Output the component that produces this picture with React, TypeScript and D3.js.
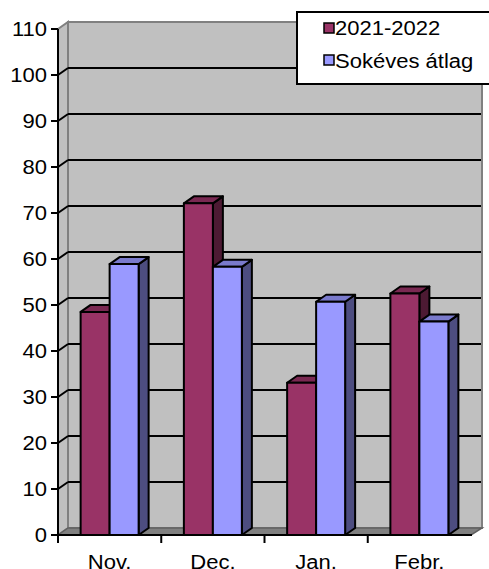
import React from "react";
import * as d3 from "d3";

const categories = ["Nov.", "Dec.", "Jan.", "Febr."];
const seriesNames = ["2021-2022", "Sokéves átlag"];
const seasonValues = [48.5, 72.1, 33.1, 52.5];
const longTermValues = [58.9, 58.3, 50.7, 46.4];
const yTicks = [0, 10, 20, 30, 40, 50, 60, 70, 80, 90, 100, 110];

const frontColors = ["#993366", "#9999FF"];

const W = 489;
const H = 569;
const DX = 10;
const DY = -7;
const FONT = "Arial, 'Liberation Sans', sans-serif";
const FS = 19.5;
const SX = 1.13;

function shade(c: string, k: number) {
  const rgb = d3.rgb(c);
  return d3.rgb(rgb.r * k, rgb.g * k, rgb.b * k).formatHex();
}

function Label({
  x,
  y,
  anchor,
  dy,
  children,
}: {
  x: number;
  y: number;
  anchor: "start" | "middle" | "end";
  dy?: string;
  children: React.ReactNode;
}) {
  return (
    <g transform={`translate(${x},${y}) scale(${SX},1)`}>
      <text x={0} y={0} dy={dy} textAnchor={anchor} fontSize={FS} fill="#000">
        {children}
      </text>
    </g>
  );
}

export default function App() {
  const x0 = 58;
  const x1 = 471;
  const y = d3.scaleLinear().domain([0, 110]).range([535, 29]);
  const xBand = d3.scaleBand<string>().domain(categories).range([x0, x1]);
  const groupW = 58;
  const inner = d3
    .scaleBand<string>()
    .domain(seriesNames)
    .range([(xBand.bandwidth() - groupW) / 2, (xBand.bandwidth() + groupW) / 2]);

  const seriesValues = [seasonValues, longTermValues];
  const base = y(0);
  const top = y(110);

  const bars: React.ReactNode[] = [];
  categories.forEach((cat, ci) => {
    seriesNames.forEach((s, si) => {
      const v = seriesValues[si][ci];
      const bx = (xBand(cat) as number) + (inner(s) as number);
      const bw = inner.bandwidth();
      const by = y(v);
      const col = frontColors[si];
      const side = `M${bx + bw},${by} L${bx + bw + DX},${by + DY} L${bx + bw + DX},${base + DY} L${bx + bw},${base} Z`;
      const topFace = `M${bx},${by} L${bx + DX},${by + DY} L${bx + bw + DX},${by + DY} L${bx + bw},${by} Z`;
      bars.push(
        <g key={`${ci}-${si}`} stroke="#000" strokeWidth={2} strokeLinejoin="round">
          <path d={side} fill={shade(col, 0.5)} />
          <path d={topFace} fill={shade(col, 0.8)} />
          <rect x={bx} y={by} width={bw} height={base - by} fill={col} />
        </g>
      );
    });
  });

  const gridVals = yTicks.filter((t) => t > 0 && t < 110);

  return (
    <svg
      width={W}
      height={H}
      style={{ position: "absolute", left: 0, top: 0, background: "#fff" }}
      fontFamily={FONT}
    >
      {/* back wall */}
      <rect
        x={x0 + DX}
        y={top + DY}
        width={x1 + DX + 1 - (x0 + DX)}
        height={base - top}
        fill="#C0C0C0"
        stroke="#808080"
        strokeWidth={2}
      />
      {/* left side wall */}
      <path
        d={`M${x0},${top} L${x0 + DX},${top + DY} L${x0 + DX},${base + DY} L${x0},${base} Z`}
        fill="#C0C0C0"
        stroke="#808080"
        strokeWidth={2}
      />
      {/* floor */}
      <path
        d={`M${x0},${base} L${x0 + DX},${base + DY} L${x1 + DX + 1},${base + DY} L${x1},${base} Z`}
        fill="#808080"
        stroke="#606060"
        strokeWidth={1.5}
      />
      {/* gridlines */}
      {gridVals.map((t) => (
        <g key={t} stroke="#000" strokeWidth={2}>
          <line x1={x0} y1={y(t)} x2={x0 + DX} y2={y(t) + DY} />
          <line x1={x0 + DX} y1={y(t) + DY} x2={x1 + DX} y2={y(t) + DY} />
        </g>
      ))}
      {bars}
      {/* axes */}
      <line x1={x0} y1={top} x2={x0} y2={base} stroke="#000" strokeWidth={2} />
      <line x1={x0 - 1} y1={base} x2={x1 + 1} y2={base} stroke="#000" strokeWidth={2} />
      {yTicks.map((t) => (
        <g key={t}>
          <line x1={x0 - 7} y1={y(t)} x2={x0} y2={y(t)} stroke="#000" strokeWidth={2} />
          <Label x={47} y={y(t)} anchor="end" dy="0.36em">
            {t}
          </Label>
        </g>
      ))}
      {categories.map((c) => (
        <g key={c}>
          <line
            x1={xBand(c) as number}
            y1={base}
            x2={xBand(c) as number}
            y2={base + 8}
            stroke="#000"
            strokeWidth={2}
          />
          <Label x={(xBand(c) as number) + xBand.bandwidth() / 2} y={569} anchor="middle">
            {c}
          </Label>
        </g>
      ))}
      {/* legend */}
      <rect x={297} y={12} width={210} height={72} fill="#fff" stroke="#000" strokeWidth={2} />
      {seriesNames.map((s, i) => (
        <g key={s}>
          <rect
            x={324}
            y={23 + i * 32}
            width={10}
            height={10}
            fill={frontColors[i]}
            stroke="#000"
            strokeWidth={1.5}
          />
          <Label x={335} y={35 + i * 33} anchor="start">
            {s}
          </Label>
        </g>
      ))}
    </svg>
  );
}
